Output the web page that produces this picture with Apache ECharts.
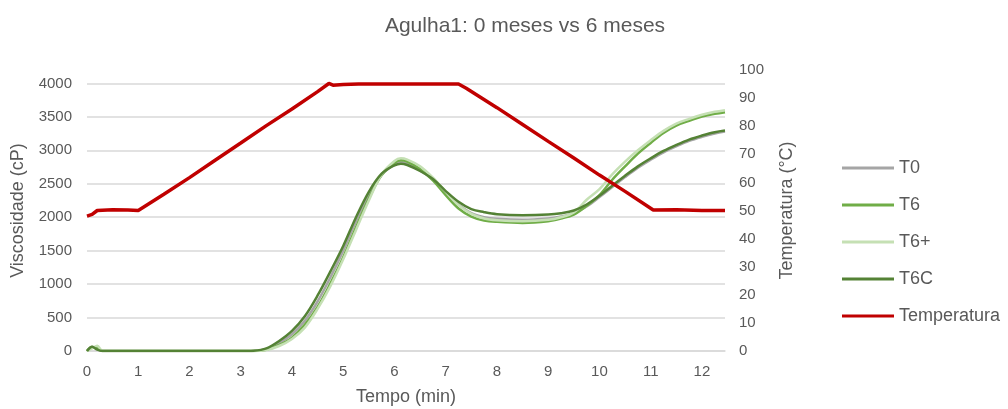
<!DOCTYPE html>
<html>
<head>
<meta charset="utf-8">
<script src="https://cdn.jsdelivr.net/npm/echarts@6/dist/echarts.min.js"></script>
<style>
html,body{margin:0;padding:0;background:#fff;}
#chart{width:1008px;height:409px;}
</style>
</head>
<body>
<div id="chart"></div>
<script>
// Time (min) for viscosity curves
const tempo = [0, 0.1, 0.2, 0.3, 0.5, 1, 1.5, 2, 2.5, 3, 3.25, 3.5, 3.75, 4, 4.25, 4.5, 4.75, 5, 5.25, 5.5, 5.75, 6, 6.125, 6.25, 6.5, 6.75, 7, 7.25, 7.5, 7.75, 8, 8.5, 9, 9.25, 9.5, 9.75, 10, 10.25, 10.5, 10.75, 11, 11.25, 11.5, 11.75, 12, 12.25, 12.45];
// Viscosity (cP)
const t0  = [0, 60, 30, 0, 0, 0, 0, 0, 0, 0, 0, 30, 120, 250, 450, 740, 1100, 1500, 1940, 2330, 2630, 2790, 2825, 2800, 2700, 2560, 2370, 2190, 2060, 2000, 1975, 1960, 1980, 2010, 2060, 2160, 2300, 2450, 2600, 2740, 2860, 2970, 3060, 3140, 3200, 3250, 3280];
const t6  = [0, 60, 40, 0, 0, 0, 0, 0, 0, 0, 0, 20, 90, 200, 390, 660, 1010, 1400, 1850, 2280, 2630, 2810, 2850, 2830, 2720, 2550, 2330, 2130, 2010, 1950, 1930, 1915, 1940, 1980, 2040, 2170, 2330, 2560, 2760, 2950, 3110, 3260, 3370, 3440, 3505, 3545, 3570];
const t6p = [0, 40, 80, 0, 0, 0, 0, 0, 0, 0, 0, 15, 75, 180, 350, 630, 970, 1370, 1810, 2250, 2640, 2840, 2880, 2860, 2760, 2590, 2380, 2180, 2050, 1980, 1955, 1940, 1960, 2000, 2070, 2260, 2420, 2640, 2830, 3000, 3150, 3290, 3400, 3470, 3530, 3575, 3600];
const t6c = [0, 65, 20, 0, 0, 0, 0, 0, 0, 0, 5, 40, 150, 300, 520, 830, 1190, 1570, 2000, 2380, 2650, 2775, 2800, 2780, 2690, 2570, 2390, 2230, 2120, 2075, 2045, 2030, 2040, 2060, 2100, 2190, 2320, 2470, 2620, 2760, 2880, 2990, 3080, 3160, 3220, 3270, 3295];
// Temperature profile (°C)
const tempoT = [0, 0.1, 0.2, 0.5, 0.8, 1.0, 1.5, 2, 2.5, 3, 3.5, 4, 4.5, 4.72, 4.8, 5.0, 5.3, 6, 6.5, 7, 7.25, 7.4, 7.6, 8, 8.5, 9, 9.5, 10, 10.5, 11.05, 11.5, 12, 12.45];
const temperatura = [48, 48.6, 50, 50.3, 50.2, 50, 55.8, 61.7, 67.9, 74.0, 80.2, 86.1, 92.3, 95.2, 94.6, 94.8, 95, 95, 95, 95, 95, 93.5, 91.2, 86.6, 80.6, 74.6, 68.7, 62.6, 56.8, 50.2, 50.3, 50, 50];

const seriesNames = ['T0', 'T6', 'T6+', 'T6C', 'Temperatura'];
const seriesColors = ['#A5A5A5', '#70AD47', '#C5E0B4', '#548235', '#C00000'];
const viscSeries = [t0, t6, t6p, t6c];

const pair = (xs, ys) => xs.map((x, i) => [x, ys[i]]);
const txt = '#595959';
const font = '"Liberation Sans", Arial, sans-serif';

const series = viscSeries.map((vals, i) => ({
  name: seriesNames[i],
  type: 'line',
  yAxisIndex: 0,
  data: pair(tempo, vals),
  smooth: 0.35,
  showSymbol: false,
  lineStyle: { color: seriesColors[i], width: 2.5 },
  itemStyle: { color: seriesColors[i] }
}));
series.push({
  name: seriesNames[4],
  type: 'line',
  yAxisIndex: 1,
  data: pair(tempoT, temperatura),
  showSymbol: false,
  lineStyle: { color: seriesColors[4], width: 3.5 },
  itemStyle: { color: seriesColors[4] }
});

const chart = echarts.init(document.getElementById('chart'), null, { renderer: 'canvas' });
chart.setOption({
  animation: false,
  backgroundColor: '#fff',
  textStyle: { fontFamily: font },
  title: {
    text: 'Agulha1: 0 meses vs 6 meses',
    left: 520, top: 11, textAlign: 'center',
    textStyle: { fontFamily: font, fontSize: 21, fontWeight: 'normal', color: txt }
  },
  grid: { left: 87, right: 283, top: 70, bottom: 58, containLabel: false, outerBoundsMode: 'none' },
  legend: {
    orient: 'vertical',
    left: 837, top: 153,
    itemWidth: 52, itemHeight: 3, itemGap: 17,
    icon: 'rect',
    data: seriesNames,
    textStyle: { fontFamily: font, fontSize: 18, color: txt, lineHeight: 20 }
  },
  xAxis: {
    type: 'value', min: 0, max: 12.45, interval: 1,
    name: 'Tempo (min)', nameLocation: 'middle', nameGap: 37,
    nameTextStyle: { fontFamily: font, fontSize: 18, color: txt },
    axisLine: { show: true, lineStyle: { color: '#D9D9D9', width: 1.5 } },
    axisTick: { show: false },
    splitLine: { show: false },
    axisLabel: { fontFamily: font, fontSize: 15, color: txt, margin: 13, showMaxLabel: false }
  },
  yAxis: [{
    type: 'value', min: 0, max: 4200, interval: 500,
    name: 'Viscosidade (cP)', nameLocation: 'middle', nameGap: 60, nameRotate: 90,
    nameTextStyle: { fontFamily: font, fontSize: 18, color: txt },
    axisLine: { show: false }, axisTick: { show: false },
    splitLine: { show: true, showMaxLine: false, lineStyle: { color: '#D9D9D9', width: 1.5 } },
    axisLabel: { fontFamily: font, fontSize: 15, color: txt, margin: 15, showMaxLabel: false, formatter: v => String(v) }
  }, {
    type: 'value', min: 0, max: 100, interval: 10,
    name: 'Temperatura (°C)', nameLocation: 'middle', nameGap: 53, nameRotate: 90,
    nameTextStyle: { fontFamily: font, fontSize: 18, color: txt },
    axisLine: { show: false }, axisTick: { show: false },
    splitLine: { show: false },
    axisLabel: { fontFamily: font, fontSize: 15, color: txt, margin: 14 }
  }],
  series: series
});
</script>
</body>
</html>
